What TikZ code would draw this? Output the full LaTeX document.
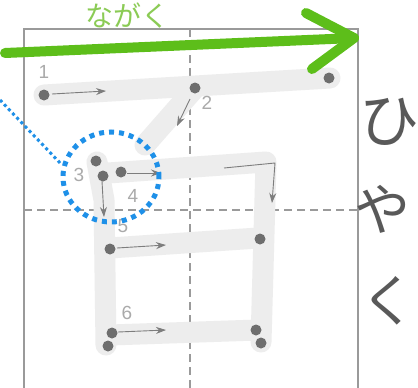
\documentclass[tikz,border=0pt]{standalone}
\usepackage{fontspec}
\setmainfont{Liberation Sans}
\newfontfamily\jpfont{Noto Sans CJK JP}
\usetikzlibrary{arrows.meta,shapes.geometric}
\definecolor{framegray}{HTML}{9A9A9A}
\definecolor{strokegray}{HTML}{EDEDED}
\definecolor{dotgray}{HTML}{6E6E6E}
\definecolor{numgray}{HTML}{AAAAAA}
\definecolor{mygreen}{HTML}{5DBE1A}
\definecolor{lightgreen}{HTML}{8BCB55}
\definecolor{myblue}{HTML}{1E90E8}
\tikzset{
  charstroke/.style={line width=21pt, strokegray, line cap=round, line join=round},
  dotpt/.style={circle, fill=dotgray, inner sep=0pt, minimum size=11pt},
  dirarrow/.style={draw=dotgray!90, line width=0.9pt, -{Stealth[length=10pt,width=7pt]}},
  numlab/.style={text=numgray, font=\fontsize{19}{19}\selectfont, inner sep=0pt},
  kana/.style={text=black!65, inner sep=0pt},
  guide/.style={framegray, line width=1.2pt, dash pattern=on 8pt off 5pt}
}
\begin{document}
\begin{tikzpicture}[x=1pt,y=-1pt]
\useasboundingbox (0,0) rectangle (418,388);
\fill[white] (0,0) rectangle (418,388);
% frame
\draw[framegray, line width=1.3pt] (24,388) -- (24,29) -- (358,29) -- (358,388);
\draw[guide] (190,29) -- (190,388);
\draw[guide] (24,210) -- (358,210);
% character strokes
\draw[charstroke] (44,95) -- (330,78);
\draw[charstroke] (195,88) -- (145,145);
\draw[charstroke] (97,162) -- (104,200) -- (106,345);
\draw[charstroke] (108,173) -- (266,162) -- (261,342);
\draw[charstroke] (110,248) -- (258,238);
\draw[charstroke] (110,335) -- (258,330);
% dots
\node[dotpt] (d1) at (44,95) {};
\node[dotpt] (d1e) at (329,78) {};
\node[dotpt] (d2) at (195,88) {};
\node[dotpt] (d3) at (96,161) {};
\node[dotpt] (d3b) at (103,176) {};
\node[dotpt] (d4) at (121,172) {};
\node[dotpt] (d4e) at (260,239) {};
\node[dotpt] (d5) at (110,249) {};
\node[dotpt] (d6) at (112,333) {};
\node[dotpt] (d6b) at (108,346) {};
\node[dotpt] (d6e) at (256,330) {};
\node[dotpt] (d6f) at (261,343) {};
% direction arrows
\coordinate (a1s) at (52,94); \coordinate (a1e) at (106,91);
\draw[dirarrow] (a1s) -- (a1e);
\coordinate (a2s) at (190,99); \coordinate (a2e) at (177,126);
\draw[dirarrow] (a2s) -- (a2e);
\coordinate (a3s) at (102,181); \coordinate (a3e) at (104,217);
\draw[dirarrow] (a3s) -- (a3e);
\coordinate (a4s) at (127,173); \coordinate (a4e) at (161,173);
\draw[dirarrow] (a4s) -- (a4e);
\coordinate (a4bs) at (224,168); \coordinate (a4bc) at (275,163); \coordinate (a4be) at (272,203);
\draw[dirarrow] (a4bs) -- (a4bc) -- (a4be);
\coordinate (a5s) at (117,248); \coordinate (a5e) at (166,245);
\draw[dirarrow] (a5s) -- (a5e);
\coordinate (a6s) at (118,332); \coordinate (a6e) at (166,330);
\draw[dirarrow] (a6s) -- (a6e);
% numbers
\node[numlab] (n1) at (44,72) {1};
\node[numlab] (n2) at (207,103) {2};
\node[numlab] (n3) at (79,175) {3};
\node[numlab] (n4) at (133,196) {4};
\node[numlab] (n5) at (123,226) {5};
\node[numlab] (n6) at (127,313) {6};
% blue dotted highlight
\node[draw=myblue, line width=5pt, dash pattern=on 5pt off 5pt, ellipse, minimum width=96pt, minimum height=90pt, inner sep=0pt] (hl) at (111,177) {};
\coordinate (hlt) at (0,100);
\draw[myblue, line width=3pt, dash pattern=on 3pt off 3pt] (hlt) -- (62,165);
% green arrow
\coordinate (gs) at (5,53); \coordinate (ge) at (354,38);
\draw[mygreen, line width=10pt, line cap=round] (gs) -- (ge);
\draw[mygreen, line width=10pt, line cap=round, line join=round] (306,13) -- (ge) -- (312,69);
\node[text=lightgreen, font=\jpfont\fontsize{28}{28}\selectfont, inner sep=0pt] (nagaku) at (127,16) {ながく};
% reading
\node[kana, font=\jpfont\fontsize{60}{60}\selectfont] (hi) at (389,122) {ひ};
\node[kana, font=\jpfont\fontsize{56}{56}\selectfont] (ya) at (382,209) {や};
\node[kana, font=\jpfont\fontsize{56}{56}\selectfont] (ku) at (388,301) {く};
\end{tikzpicture}
\end{document}
